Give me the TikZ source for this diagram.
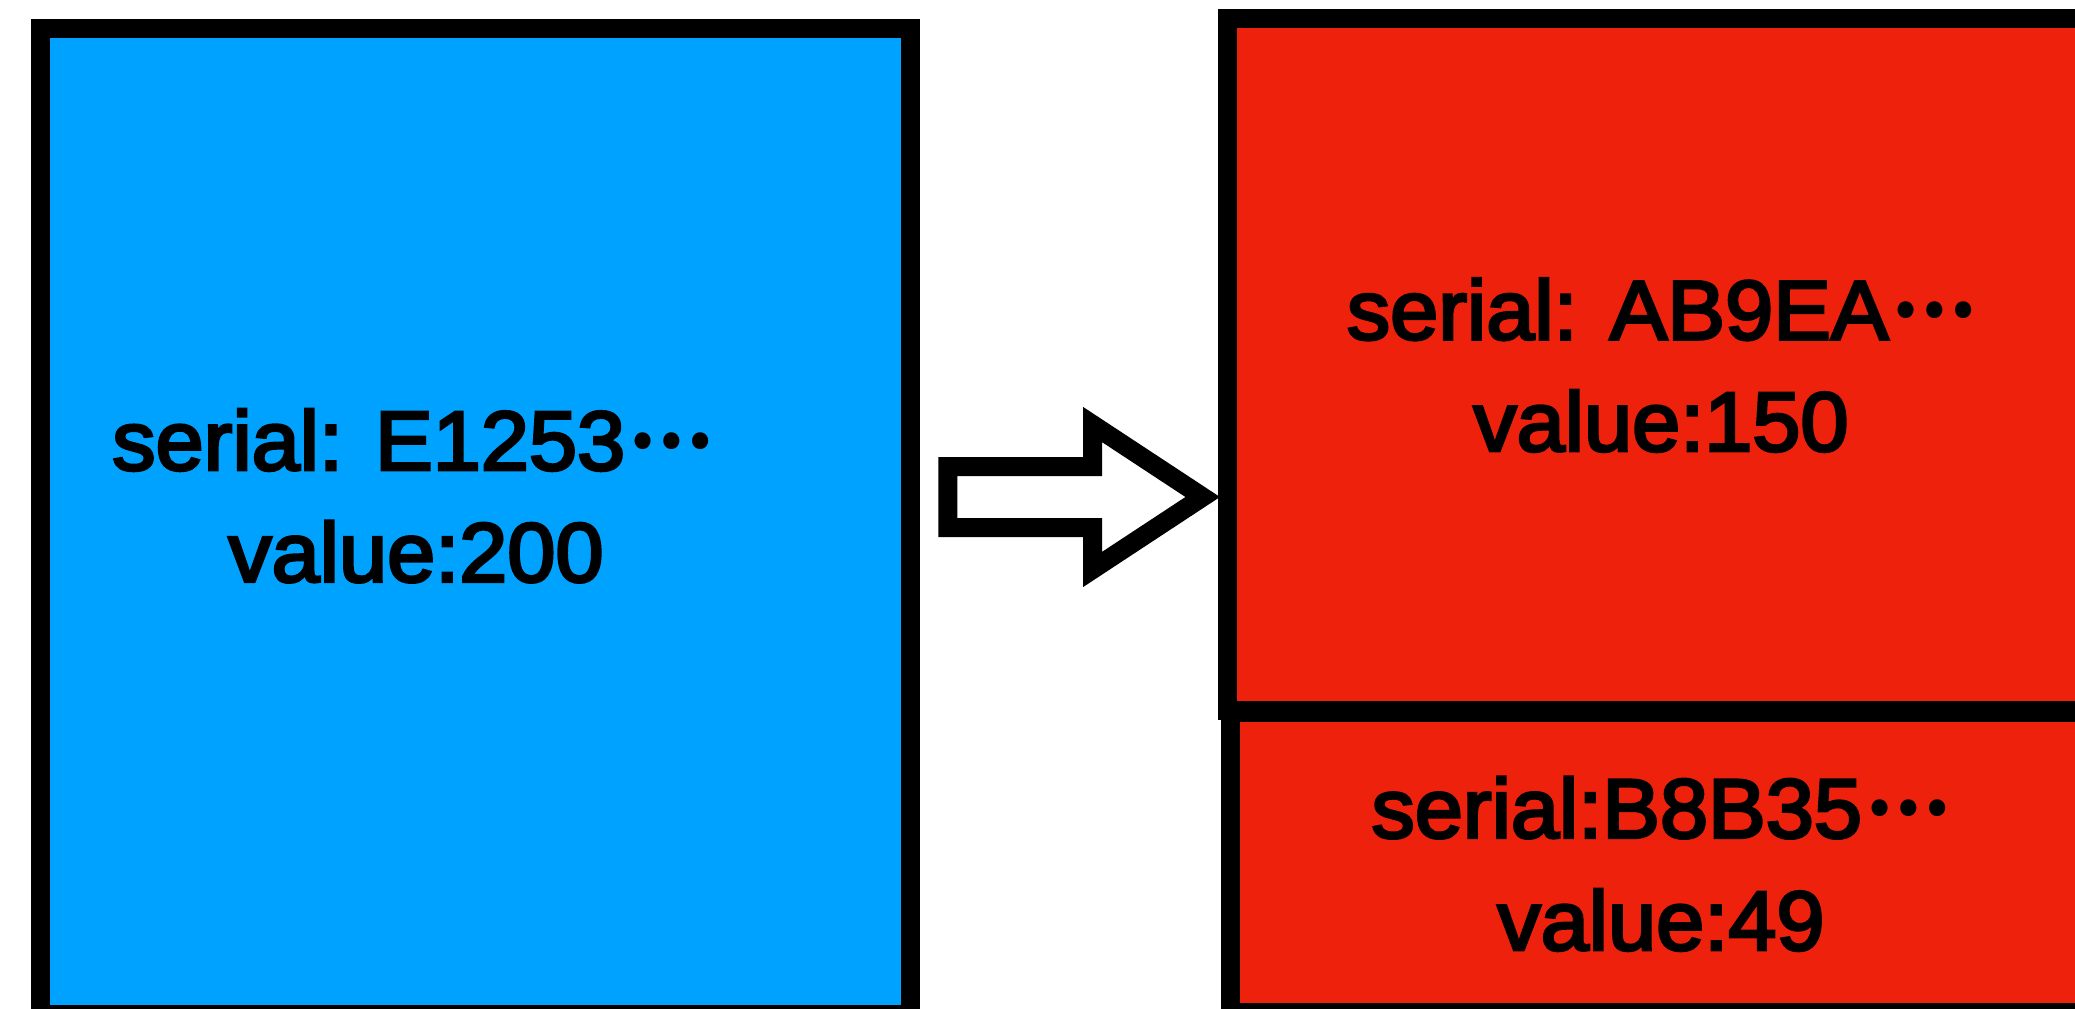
\documentclass[tikz,border=0pt]{standalone}
\usepackage{fontspec}
\newfontfamily\labelfont[FakeBold=3.5,FakeStretch=1.03]{Liberation Sans}
\newfontfamily\dotsfont{Noto Sans CJK JP}
\definecolor{coinblue}{HTML}{00A2FF}
\definecolor{coinred}{HTML}{EE220C}
% ellipsis set at mid-height, as in Japanese typesetting
\newcommand{\middots}{\kern3pt\raisebox{22pt}{\dotsfont\bfseries\fontsize{76}{76}\selectfont …}}
\begin{document}
\begin{tikzpicture}[x=1pt,y=-1pt,
  coin/.style={draw=black,line width=19pt,miter limit=10},
  label/.style={inner sep=0pt,anchor=base,font=\labelfont\fontsize{84}{84}\selectfont}]
  \useasboundingbox (0,0) rectangle (2075,1009);
  \clip (0,0) rectangle (2075,1009);
  % input coin
  \draw[coin,fill=coinblue] (40.3,28.7) rectangle (910.7,1014);
  \node[label] (in1) at (413,470) {serial: E1253\middots};
  \node[label] (in2) at (416,581.7) {value:200};
  % output coins
  \draw[coin,fill=coinred] (1230.4,712.8) rectangle (2100,1012);
  \draw[coin,fill=coinred] (1227.4,18.7) rectangle (2100,710.5);
  \node[label] (out1) at (1662,339.3) {serial: AB9EA\middots};
  \node[label] (out2) at (1661,451) {value:150};
  \node[label] (chg1) at (1661,837.7) {serial:B8B35\middots};
  \node[label] (chg2) at (1661,950) {value:49};
  % hollow arrow between them
  \draw[line width=19pt,fill=white,miter limit=10]
    (947.8,466.7) -- (1092.5,466.7) -- (1092.5,424.5) -- (1202.7,497)
    -- (1092.5,569.5) -- (1092.5,527.5) -- (947.8,527.5) -- cycle;
\end{tikzpicture}
\end{document}
